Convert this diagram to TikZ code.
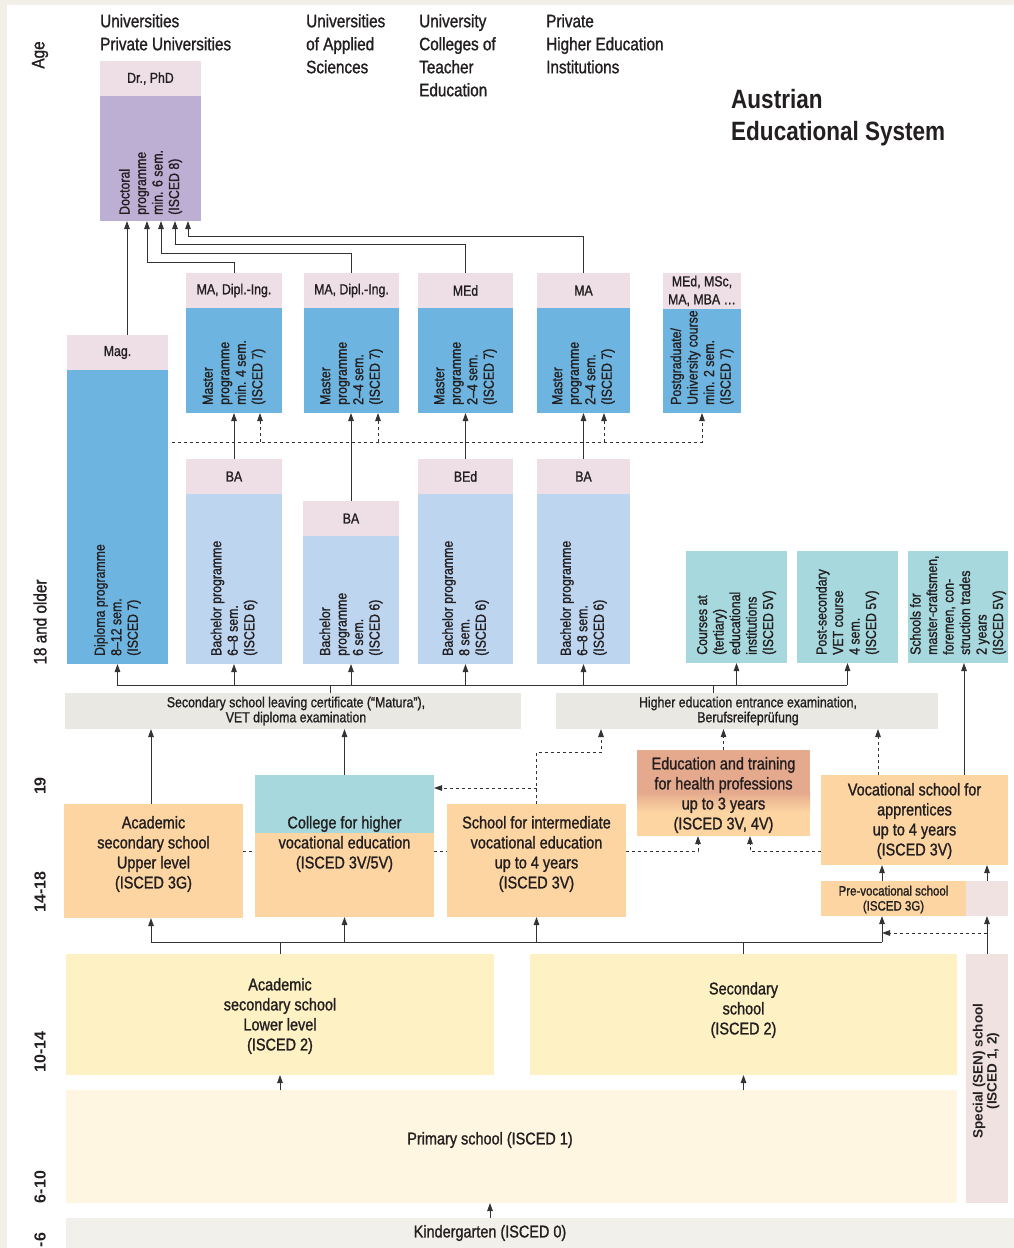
\documentclass[tikz,border=0pt]{standalone}
\usepackage{fontspec}
\setmainfont{Liberation Sans}[FakeStretch=0.85, UprightFeatures={FakeBold=1.2}]
\newfontfamily\widefont{Liberation Sans}
\usetikzlibrary{arrows.meta}
\definecolor{bgc}{HTML}{F1EFE8}
\definecolor{pinkh}{HTML}{EEDFE6}
\definecolor{purp}{HTML}{BDAED3}
\definecolor{mblue}{HTML}{6DB5E0}
\definecolor{bblue}{HTML}{BDD5EF}
\definecolor{tealc}{HTML}{A6D8DD}
\definecolor{grayc}{HTML}{E9E8E3}
\definecolor{orng}{HTML}{FCD5A2}
\definecolor{salm}{HTML}{E5A98D}
\definecolor{yel}{HTML}{FEF1C4}
\definecolor{cream}{HTML}{FEF6E1}
\definecolor{senp}{HTML}{EFE2E0}
\definecolor{kinc}{HTML}{F2F0EA}
\definecolor{linec}{HTML}{333333}
\definecolor{txtc}{HTML}{231F20}
\tikzset{
  boxst/.style={inner sep=0pt, outer sep=0pt, draw=none},
  ln/.style={draw=linec, line width=1pt},
  arr/.style={ln, -{Triangle[length=8pt,width=5.5pt]}},
  dln/.style={ln, dash pattern=on 3pt off 3pt},
  darr/.style={arr, dash pattern=on 3pt off 3pt},
  hdr/.style={anchor=north west, align=left, inner sep=0pt, text=txtc, font=\fontsize{18}{23}\selectfont},
  ttl/.style={anchor=north west, align=left, inner sep=0pt, text=txtc, font=\bfseries\fontsize{26.5}{32}\selectfont},
  tx/.style={align=center, inner sep=0pt, text=txtc, font=\fontsize{17}{20}\selectfont},
  txh/.style={align=center, inner sep=0pt, text=txtc, font=\fontsize{14.5}{18}\selectfont},
  txm/.style={align=center, inner sep=0pt, text=txtc, font=\fontsize{14.5}{15}\selectfont},
  txs/.style={align=center, inner sep=0pt, text=txtc, font=\fontsize{13.5}{15}\selectfont},
  rtx/.style={rotate=90, anchor=west, align=left, inner sep=0pt, text=txtc, font=\fontsize{14.5}{16.5}\selectfont},
  agel/.style={rotate=90, inner sep=0pt, text=txtc, font=\fontsize{18}{20}\selectfont},
  agew/.style={rotate=90, inner sep=0pt, text=txtc, font=\widefont\bfseries\fontsize{16}{20}\selectfont},
  sent/.style={rotate=90, align=center, inner sep=0pt, text=txtc, font=\widefont\bfseries\fontsize{13.5}{14}\selectfont},
}
\newcommand{\Bx}[6]{\node[boxst, fill=#6, minimum width={(#4)-(#2)}, minimum height={(#5)-(#3)}, anchor=north west] (#1) at (#2,#3) {};}
\begin{document}
\begin{tikzpicture}[x=1pt,y=-1pt]
\useasboundingbox (0,0) rectangle (1014,1248);
\fill[bgc] (0,0) rectangle (1014,1248);
\fill[white] (7,5) rectangle (1014,1248);

% ---------- boxes ----------
\Bx{dochd}{100}{61}{201}{96}{pinkh}
\Bx{doc}{100}{96}{201}{221}{purp}
\Bx{m1h}{186}{273}{282}{308}{pinkh}
\Bx{m1}{186}{308}{282}{413}{mblue}
\Bx{m2h}{304}{273}{399}{308}{pinkh}
\Bx{m2}{304}{308}{399}{413}{mblue}
\Bx{m3h}{418}{273}{513}{308}{pinkh}
\Bx{m3}{418}{308}{513}{413}{mblue}
\Bx{m4h}{537}{273}{630}{308}{pinkh}
\Bx{m4}{537}{308}{630}{413}{mblue}
\Bx{m5h}{663}{273}{741}{309}{pinkh}
\Bx{m5}{663}{309}{741}{413}{mblue}
\Bx{magh}{67}{335}{168}{370}{pinkh}
\Bx{mag}{67}{370}{168}{664}{mblue}
\Bx{b1h}{186}{459}{282}{494}{pinkh}
\Bx{b1}{186}{494}{282}{664}{bblue}
\Bx{b2h}{303}{501}{399}{536}{pinkh}
\Bx{b2}{303}{536}{399}{664}{bblue}
\Bx{b3h}{418}{459}{513}{494}{pinkh}
\Bx{b3}{418}{494}{513}{664}{bblue}
\Bx{b4h}{537}{459}{630}{494}{pinkh}
\Bx{b4}{537}{494}{630}{664}{bblue}
\Bx{t1}{686}{551}{787}{663}{tealc}
\Bx{t2}{797}{551}{898}{663}{tealc}
\Bx{t3}{908}{551}{1008}{663}{tealc}
\Bx{mat}{65}{693}{521}{729}{grayc}
\Bx{hee}{556}{693}{938}{729}{grayc}
\Bx{ahs}{64}{804}{243}{918}{orng}
\fill[tealc] (255,775) rectangle (434,833);
\fill[orng] (255,833) rectangle (434,917);
\Bx{col}{255}{775}{434}{917}{none}
\Bx{sim}{447}{804}{626}{917}{orng}
\fill[orng] (637,750) rectangle (810,836);
\fill[salm] (637,750) rectangle (810,792);
\shade[top color=salm, bottom color=orng] (637,792) rectangle (810,812);
\Bx{hlt}{637}{750}{810}{836}{none}
\Bx{voc}{821}{775}{1008}{865}{orng}
\Bx{pvs}{821}{881}{966}{916}{orng}
\Bx{pvx}{966}{881}{1008}{916}{senp}
\Bx{asl}{66}{954}{494}{1075}{yel}
\Bx{sec}{530}{954}{957}{1075}{yel}
\Bx{sen}{966}{954}{1008}{1203}{senp}
\Bx{pri}{66}{1090}{957}{1203}{cream}
\Bx{kin}{66}{1218}{1014}{1248}{kinc}

% ---------- helper coordinates ----------
\coordinate (x127) at (127,0);
\coordinate (x147) at (147,0);
\coordinate (x161) at (161,0);
\coordinate (x175) at (175,0);
\coordinate (x188) at (188,0);
\coordinate (x260) at (260,0);
\coordinate (x378) at (378,0);
\coordinate (x604) at (604,0);
\coordinate (x330) at (330,0);
\coordinate (x713) at (713,0);
\coordinate (x964) at (964,0);
\coordinate (x151) at (151,0);
\coordinate (x601) at (601,0);
\coordinate (x878) at (878,0);
\coordinate (x698) at (698,0);
\coordinate (x750) at (750,0);
\coordinate (x882) at (882,0);
\coordinate (x490) at (490,0);
\coordinate (dl) at (172,442);
\coordinate (bus1) at (117,685);
\coordinate (bus1r) at (847,685);
\coordinate (y788) at (0,788);
\coordinate (y851) at (0,851);
\coordinate (y933) at (0,933);
\coordinate (bus2) at (151,942);
\coordinate (bus2r) at (882,942);

% ---------- connectors ----------
\draw[arr] (magh.north -| x127) -- (doc.south -| x127);
\draw[arr] (m1h.north) -- ++(0,-11) -| (doc.south -| x147);
\draw[arr] (m2h.north) -- ++(0,-20) -| (doc.south -| x161);
\draw[arr] (m3h.north) -- ++(0,-29) -| (doc.south -| x175);
\draw[arr] (m4h.north) -- ++(0,-37) -| (doc.south -| x188);
\draw[arr] (b1h.north) -- (b1h.north |- m1.south);
\draw[arr] (b2h.north) -- (b2h.north |- m2.south);
\draw[arr] (b3h.north) -- (b3h.north |- m3.south);
\draw[arr] (b4h.north) -- (b4h.north |- m4.south);
\draw[darr] (dl) -| (m5.south);
\draw[darr] (dl -| x260) -- (m1.south -| x260);
\draw[darr] (dl -| x378) -- (m2.south -| x378);
\draw[darr] (dl -| x604) -- (m4.south -| x604);
\draw[ln] (bus1) -- (bus1r);
\foreach \n in {mag,b1,b2,b3,b4,t1,t2} {\draw[arr] (\n.south |- bus1) -- (\n.south);}
\draw[ln] (mat.north -| x330) -- (bus1 -| x330);
\draw[ln] (hee.north -| x713) -- (bus1 -| x713);
\draw[arr] (voc.north -| x964) -- (t3.south -| x964);
\draw[arr] (ahs.north -| x151) -- (mat.south -| x151);
\draw[arr] (col.north) -- (mat.south -| col.north);
\draw[darr] (sim.north) -- ++(0,-52) -| (hee.south -| x601);
\draw[darr] (sim.north |- y788) -- (col.east |- y788);
\draw[darr] (hlt.north) -- (hee.south -| hlt.north);
\draw[darr] (voc.north -| x878) -- (hee.south -| x878);
\draw[dln] (ahs.east |- y851) -- (col.west |- y851);
\draw[dln] (col.east |- y851) -- (sim.west |- y851);
\draw[darr] (sim.east |- y851) -| (hlt.south -| x698);
\draw[darr] (voc.west |- y851) -| (hlt.south -| x750);
\draw[arr] (pvs.north -| x882) -- (voc.south -| x882);
\draw[arr] (pvx.north) -- (voc.south -| pvx.north);
\draw[arr] (sen.north) -- (pvx.south);
\draw[darr] (sen.north |- y933) -- (x882 |- y933);
\draw[ln] (bus2) -- (bus2r);
\draw[arr] (bus2) -- (ahs.south -| bus2);
\draw[arr] (col.south |- bus2) -- (col.south);
\draw[arr] (sim.south |- bus2) -- (sim.south);
\draw[arr] (bus2r) -- (pvs.south -| bus2r);
\draw[ln] (asl.north) -- (asl.north |- bus2);
\draw[ln] (sec.north) -- (sec.north |- bus2);
\draw[arr] (pri.north -| asl.north) -- (asl.south);
\draw[arr] (pri.north -| sec.north) -- (sec.south);
\draw[arr] (kin.north -| x490) -- (pri.south -| x490);

% ---------- texts ----------
\node[hdr] (h1) at (100,14) {Universities\\Private Universities};
\node[hdr] (h2) at (306,14) {Universities\\of Applied\\Sciences};
\node[hdr] (h3) at (419,14) {University\\Colleges of\\Teacher\\Education};
\node[hdr] (h4) at (546,14) {Private\\Higher Education\\Institutions};
\node[ttl] (title) at (731,89) {Austrian\\Educational System};

\node[agel] (a1) at (40,55) {Age};
\node[agel] (a2) at (40,622) {18 and older};
\node[agew] (a3) at (40,786) {19};
\node[agew] (a4) at (40,892) {14-18};
\node[agew] (a5) at (40,1052) {10-14};
\node[agew] (a6) at (40,1187) {6-10};
\node[agew] (a7) at (40,1240) {-6};

\node[txh] (dochdt) at (dochd.center) {Dr., PhD};
\node[txh] (m1ht) at (m1h.center) {MA, Dipl.-Ing.};
\node[txh] (m2ht) at (m2h.center) {MA, Dipl.-Ing.};
\node[txh] (m3ht) at (m3h.center) {MEd};
\node[txh] (m4ht) at (m4h.center) {MA};
\node[txh] (m5ht) at (m5h.center) {MEd, MSc,\\MA, MBA …};
\node[txh] (maght) at (magh.center) {Mag.};
\node[txh] (b1ht) at (b1h.center) {BA};
\node[txh] (b2ht) at (b2h.center) {BA};
\node[txh] (b3ht) at (b3h.center) {BEd};
\node[txh] (b4ht) at (b4h.center) {BA};

\node[rtx] (doct) at ([yshift=6pt]doc.south) {Doctoral\\programme\\min. 6 sem.\\(ISCED 8)};
\node[rtx] (m1t) at ([yshift=8pt]m1.south) {Master\\programme\\min. 4 sem.\\(ISCED 7)};
\node[rtx] (m2t) at ([yshift=8pt]m2.south) {Master\\programme\\2–4 sem.\\(ISCED 7)};
\node[rtx] (m3t) at ([yshift=8pt]m3.south) {Master\\programme\\2–4 sem.\\(ISCED 7)};
\node[rtx] (m4t) at ([yshift=8pt]m4.south) {Master\\programme\\2–4 sem.\\(ISCED 7)};
\node[rtx] (m5t) at ([yshift=8pt]m5.south) {Postgraduate/\\University course\\min. 2 sem.\\(ISCED 7)};
\node[rtx] (magt) at ([yshift=8pt]mag.south) {Diploma programme\\8–12 sem.\\(ISCED 7)};
\node[rtx] (b1t) at ([yshift=8pt]b1.south) {Bachelor programme\\6–8 sem.\\(ISCED 6)};
\node[rtx] (b2t) at ([yshift=8pt]b2.south) {Bachelor\\programme\\6 sem.\\(ISCED 6)};
\node[rtx] (b3t) at ([yshift=8pt]b3.south) {Bachelor programme\\8 sem.\\(ISCED 6)};
\node[rtx] (b4t) at ([yshift=8pt]b4.south) {Bachelor programme\\6–8 sem.\\(ISCED 6)};
\node[rtx] (t1t) at ([yshift=8pt]t1.south) {Courses at\\(tertiary)\\educational\\institutions\\(ISCED 5V)};
\node[rtx] (t2t) at ([yshift=8pt]t2.south) {Post-secondary\\VET course\\4 sem.\\(ISCED 5V)};
\node[rtx] (t3t) at ([yshift=8pt]t3.south) {Schools for\\master-craftsmen,\\foremen, con-\\struction trades\\2 years\\(ISCED 5V)};

\node[txm] (matt) at (296,711) {Secondary school leaving certificate (“Matura”),\\VET diploma examination};
\node[txm] (heet) at (748,711) {Higher education entrance examination,\\Berufsreifeprüfung};

\node[tx] (ahst) at (153.5,854) {Academic\\secondary school\\Upper level\\(ISCED 3G)};
\node[tx] (colt) at (344.5,844) {College for higher\\vocational education\\(ISCED 3V/5V)};
\node[tx] (simt) at (536.5,854) {School for intermediate\\vocational education\\up to 4 years\\(ISCED 3V)};
\node[tx] (hltt) at (723.5,795) {Education and training\\for health professions\\up to 3 years\\(ISCED 3V, 4V)};
\node[tx] (voct) at (914.5,821) {Vocational school for\\apprentices\\up to 4 years\\(ISCED 3V)};
\node[txs] (pvst) at (893.5,899.5) {Pre-vocational school\\(ISCED 3G)};
\node[tx] (aslt) at (280,1016) {Academic\\secondary school\\Lower level\\(ISCED 2)};
\node[tx] (sect) at (743.5,1010) {Secondary\\school\\(ISCED 2)};
\node[tx] (prit) at (490,1140) {Primary school (ISCED 1)};
\node[tx] (kint) at (490,1233) {Kindergarten (ISCED 0)};
\node[sent] (sent) at (986,1071) {Special (SEN) school\\(ISCED 1, 2)};
\end{tikzpicture}
\end{document}
